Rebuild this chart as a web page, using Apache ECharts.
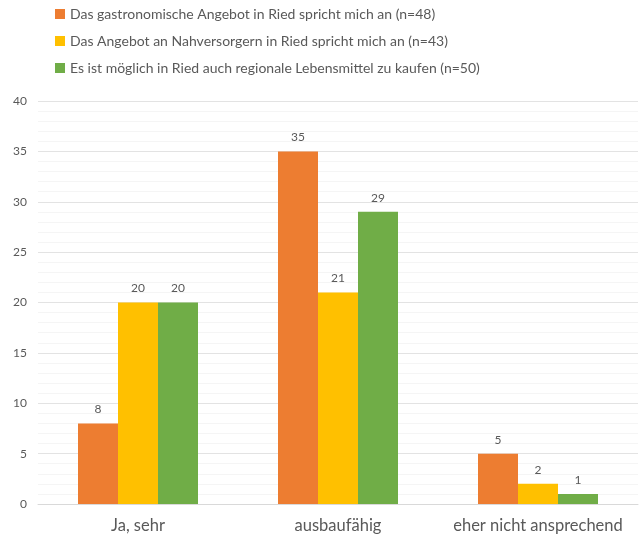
<!DOCTYPE html>
<html>
<head>
<meta charset="utf-8">
<script src="https://cdn.jsdelivr.net/npm/echarts@6/dist/echarts.min.js"></script>
<style>
  html, body { margin: 0; padding: 0; background: #fff; }
  #chart { width: 644px; height: 540px; }
</style>
</head>
<body>
<div id="chart"></div>
<script>
// Antworten je Kategorie
const categories = ['Ja, sehr', 'ausbaufähig', 'eher nicht ansprechend'];
const seriesNames = [
  'Das gastronomische Angebot in Ried spricht mich an (n=48)',
  'Das Angebot an Nahversorgern in Ried spricht mich an (n=43)',
  'Es ist möglich in Ried auch regionale Lebensmittel zu kaufen (n=50)'
];
const gastronomie = [8, 35, 5];
const nahversorger = [20, 21, 2];
const regional = [20, 29, 1];
const colors = ['#ED7D31', '#FFC000', '#70AD47'];

const font = 'Lato, "Open Sans", sans-serif';
const values = [gastronomie, nahversorger, regional];

const chart = echarts.init(document.getElementById('chart'));
chart.setOption({
  animation: false,
  textStyle: { fontFamily: font },
  legend: {
    orient: 'vertical',
    left: 50,
    top: 2,
    itemWidth: 10,
    itemHeight: 10,
    itemGap: 13,
    icon: 'rect',
    textStyle: { fontSize: 14, color: '#595959', fontFamily: font }
  },
  grid: { left: 38, right: 6, top: 101, bottom: 36, containLabel: false },
  xAxis: {
    type: 'category',
    data: categories,
    axisTick: { show: false },
    axisLine: { lineStyle: { color: '#d9d9d9' } },
    axisLabel: {
      interval: 0,
      hideOverlap: false,
      fontSize: 16.5,
      color: '#595959',
      margin: 13,
      fontFamily: font
    }
  },
  yAxis: {
    type: 'value',
    min: 0,
    max: 40,
    interval: 5,
    axisLabel: { fontSize: 12, color: '#595959', margin: 11, fontFamily: font },
    splitLine: { lineStyle: { color: '#e3e3e3' } },
    minorTick: { show: false, splitNumber: 5 },
    minorSplitLine: { show: true, lineStyle: { color: '#f5f5f5' } }
  },
  series: values.map((v, i) => ({
    name: seriesNames[i],
    type: 'bar',
    data: v,
    barGap: '0%',
    barCategoryGap: '40%',
    itemStyle: { color: colors[i] },
    label: {
      show: true,
      position: 'top',
      distance: 8,
      fontSize: 12,
      color: '#595959',
      fontFamily: font
    }
  }))
});
</script>
</body>
</html>
